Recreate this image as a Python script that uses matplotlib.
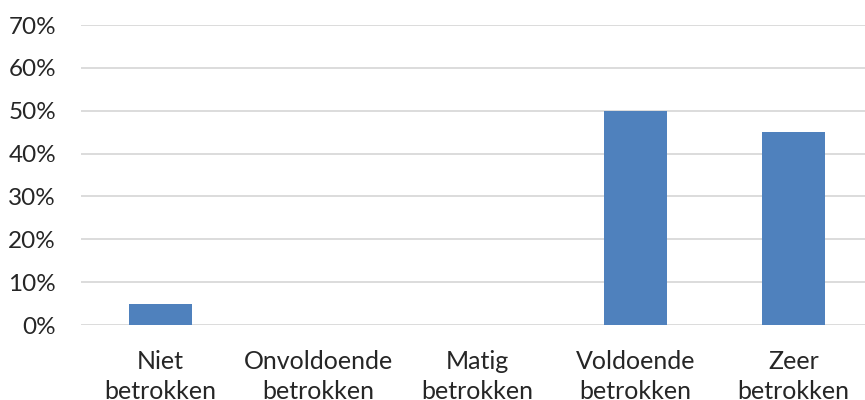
import matplotlib.pyplot as plt
import numpy as np

# Data
categories = ["Niet\nbetrokken", "Onvoldoende\nbetrokken", "Matig\nbetrokken",
              "Voldoende\nbetrokken", "Zeer\nbetrokken"]
values = [0.05, 0.0, 0.0, 0.50, 0.45]
y_ticks = [0.0, 0.1, 0.2, 0.3, 0.4, 0.5, 0.6, 0.7]

plt.rcParams['font.family'] = ['Lato', 'DejaVu Sans']

fig = plt.figure(figsize=(8.65, 4.0), dpi=100)
ax = fig.add_axes([81 / 865, 75 / 400, 784 / 865, 300 / 400])

x = np.arange(len(categories))
ax.bar(x, values, width=0.40, color="#4F81BD", zorder=3)

ax.set_ylim(0, 0.7)
ax.set_xlim(-0.5, 4.45)
ax.set_yticks(y_ticks)
ax.set_yticklabels([f"{int(round(t * 100))}%" for t in y_ticks])
ax.set_xticks(x)
ax.set_xticklabels(categories, linespacing=1.35)

ax.grid(axis="y", color="#D9D9D9", linewidth=1.3, zorder=0)
for s in ax.spines.values():
    s.set_visible(False)
ax.tick_params(axis="y", length=0, pad=18, labelsize=17.5, labelcolor="#262626")
ax.tick_params(axis="x", length=0, pad=18, labelsize=18, labelcolor="#262626")

fig.savefig("out.png", dpi=100)
